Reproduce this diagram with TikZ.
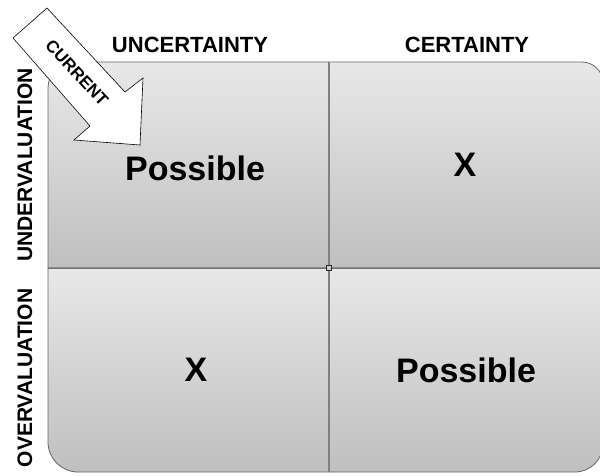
\documentclass[tikz,border=0pt]{standalone}
\usepackage{fontspec}
\setmainfont{Liberation Sans}
\begin{document}
\begin{tikzpicture}[x=1pt,y=-1pt,
  quad/.style={top color=gray!18, bottom color=gray!50, draw=gray!80!black, line width=0.8pt},
  head/.style={font=\bfseries\fontsize{22}{22}\selectfont, inner sep=0pt},
  side/.style={font=\bfseries\fontsize{21}{21}\selectfont, inner sep=0pt, rotate=90},
  cell/.style={font=\bfseries\fontsize{34}{34}\selectfont, inner sep=0pt},
  arrowbody/.style={fill=white, draw=black, line width=0.6pt, line join=miter}]
\useasboundingbox (0,0) rectangle (600,475);
\begin{scope}
\clip (0,0) rectangle (600,475);
% corners of the grid
\coordinate (tm) at (329,62);
\coordinate (ml) at (48,268);
\coordinate (mm) at (329,268);
\coordinate (mr) at (603,268);
\coordinate (bm) at (329,472);
% four quadrants, each rounded at its outer corner
\path[quad] (ml) -- (48,88) arc(180:270:26) -- (tm) -- (mm) -- cycle;
\path[quad] (tm) -- (582,62) arc(270:360:21) -- (mr) -- (mm) -- cycle;
\path[quad] (mm) -- (ml) -- (48,442) arc(180:90:30) -- (bm) -- cycle;
\path[quad] (mm) -- (bm) -- (575,472) arc(90:0:28) -- (mr) -- cycle;
% dividers
\draw[gray, line width=1.6pt] (tm) -- (bm);
\draw[gray!90!black, line width=1pt] (ml) -- (mr);
\node[draw=gray!30!black, fill=gray!40, minimum size=5pt, inner sep=0pt, line width=0.8pt] (hub) at (mm) {};
\end{scope}
% column and row headings
\node[head] (unc) at (190,45) {UNCERTAINTY};
\node[head] (cer) at (467,45) {CERTAINTY};
\node[side] (under) at (25,165) {UNDERVALUATION};
\node[side] (over) at (25,378) {OVERVALUATION};
% cell contents
\node[cell] (p1) at (195,168) {Possible};
\node[cell] (x1) at (465,165) {X};
\node[cell] (x2) at (196,370) {X};
\node[cell] (p2) at (466,370) {Possible};
% block arrow marking the current position
\draw[arrowbody] (13,38) -- (47,8) -- (125,92) -- (143,78) -- (140,145)
  -- (74,140) -- (90,126) -- cycle;
\node[font=\bfseries\fontsize{17}{17}\selectfont, rotate=-47, inner sep=0pt] (cur) at (77,73) {CURRENT};
\end{tikzpicture}
\end{document}
